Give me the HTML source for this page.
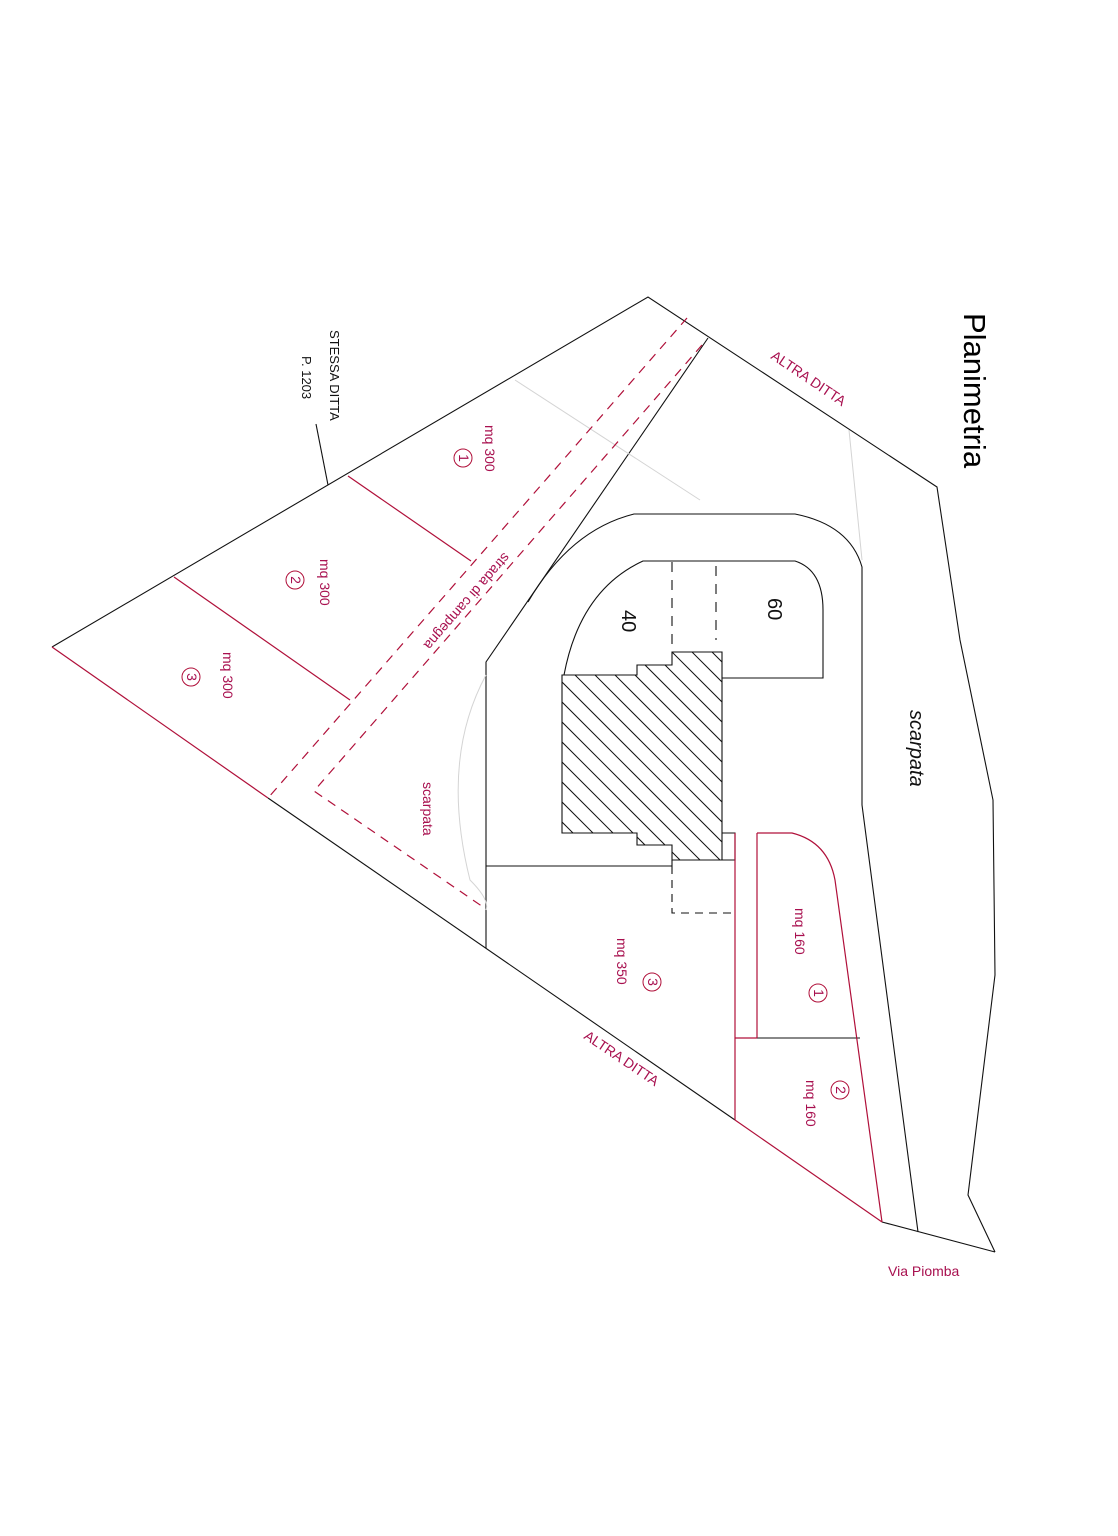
<!DOCTYPE html>
<html><head><meta charset="utf-8"><style>
html,body{margin:0;padding:0;background:#fff;}
svg{display:block;}
text{font-family:"Liberation Sans",sans-serif;}
.m{fill:#a8104f;font-size:14px;}
</style></head><body>
<svg width="1118" height="1536" viewBox="0 0 1118 1536" xmlns="http://www.w3.org/2000/svg">
<defs>
<clipPath id="hc"><polygon points="562,675 637,675 637,665 672,665 672,652 722,652 722,860 672,860 672,845 637,845 637,833 562,833"/></clipPath>
</defs>
<g fill="none" stroke="#111" stroke-width="1.1">
<polyline points="52,647 648,297 937,487 960,640 993,800 995,975 968,1195 995,1252"/>
<line x1="882" y1="1222" x2="995" y2="1252"/>
<line x1="268" y1="798" x2="735" y2="1120"/>
<line x1="328" y1="485" x2="316" y2="424"/>
<polyline points="708,338 486,662 486,948"/>
<line x1="486" y1="866" x2="672" y2="866"/>
<path d="M528,602 Q570,530 634,514 L795,514 Q850,525 862,567 L862,805 L918,1232"/>
<path d="M564,675 Q580,590 643,561 L795,561 Q823,570 823,610 L823,678 L722,678"/>
<polygon points="562,675 637,675 637,665 672,665 672,652 722,652 722,860 672,860 672,845 637,845 637,833 562,833"/>
<polyline points="722,833 735,833 735,860 722,860"/>
<line x1="672" y1="860" x2="672" y2="866"/>
<polyline stroke-dasharray="8,6" points="672,866 672,913 735,913"/>
<line stroke-dasharray="10,8" x1="672" y1="562" x2="672" y2="650"/>
<line stroke-dasharray="10,8" x1="716" y1="566" x2="716" y2="640"/>
<line x1="757" y1="1038" x2="860" y2="1038"/>
</g>
<g clip-path="url(#hc)" stroke="#111" stroke-width="1">
<path d="M480,560 l300,300 M500,560 l300,300 M520,560 l300,300 M540,560 l300,300 M560,560 l300,300 M580,560 l300,300 M600,560 l300,300 M620,560 l300,300 M640,560 l300,300 M660,560 l300,300 M460,560 l300,300 M440,560 l300,300 M420,560 l300,300 M400,560 l300,300 M380,560 l300,300 M360,560 l300,300 M340,560 l300,300 M320,560 l300,300 M300,560 l300,300 M280,560 l300,300 M260,560 l300,300 M240,560 l300,300"/>
</g>
<g stroke="#d4d4d4" stroke-width="1" fill="none">
<line x1="849" y1="430" x2="862" y2="560"/>
<line x1="515" y1="380" x2="700" y2="500"/>
<path d="M486,675 Q440,760 470,880 Q490,900 486,910"/>
</g>
<g fill="none" stroke="#b0103a" stroke-width="1.2">
<line x1="52" y1="647" x2="268" y2="798"/>
<line x1="735" y1="1120" x2="882" y2="1222"/>
<line x1="348" y1="476" x2="471" y2="561"/>
<line x1="174" y1="577" x2="350" y2="700"/>
<line x1="735" y1="833" x2="735" y2="1120"/>
<line x1="757" y1="833" x2="757" y2="1038"/>
<line x1="735" y1="1038" x2="757" y2="1038"/>
<path d="M757,833 L792,833 Q828,842 835,880 L882,1222"/>
<line stroke-dasharray="9,7" x1="687" y1="318" x2="268" y2="798"/>
<polyline stroke-dasharray="9,7" points="702,345 314,791 486,909"/>
</g>
<text font-size="31" transform="translate(964,313) rotate(90)">Planimetria</text>
<text class="m" font-size="13" transform="translate(770,358) rotate(34)">ALTRA DITTA</text>
<text class="m" font-size="13" transform="translate(583,1038) rotate(34)">ALTRA DITTA</text>
<text class="m" x="888" y="1276">Via Piomba</text>
<text font-size="13" fill="#111" transform="translate(330,330) rotate(90)">STESSA DITTA</text>
<text font-size="13" fill="#111" transform="translate(302,356) rotate(90)">P. 1203</text>
<text class="m" transform="translate(485,425) rotate(90)">mq 300</text>
<text class="m" transform="translate(320,559) rotate(90)">mq 300</text>
<text class="m" transform="translate(223,652) rotate(90)">mq 300</text>
<text class="m" transform="translate(617,938) rotate(90)">mq 350</text>
<text class="m" transform="translate(795,908) rotate(90)">mq 160</text>
<text class="m" transform="translate(806,1080) rotate(90)">mq 160</text>
<text class="m" transform="translate(423,782) rotate(90)">scarpata</text>
<text class="m" transform="translate(504,552) rotate(131)">strada di campegna</text>
<g fill="none" stroke="#b0103a" stroke-width="1">
<circle cx="463" cy="458" r="9"/><circle cx="295" cy="580" r="9"/><circle cx="191" cy="677" r="9"/>
<circle cx="652" cy="982" r="9"/><circle cx="818" cy="993" r="9"/><circle cx="840" cy="1090" r="9"/>
</g>
<g class="m" font-size="12" text-anchor="middle">
<text transform="translate(459,458) rotate(90)">1</text>
<text transform="translate(291,580) rotate(90)">2</text>
<text transform="translate(187,677) rotate(90)">3</text>
<text transform="translate(648,982) rotate(90)">3</text>
<text transform="translate(814,993) rotate(90)">1</text>
<text transform="translate(836,1090) rotate(90)">2</text>
</g>
<text font-size="20" fill="#111" transform="translate(768,598) rotate(90)">60</text>
<text font-size="20" fill="#111" transform="translate(622,610) rotate(90)">40</text>
<text font-size="20" fill="#111" font-style="italic" transform="translate(910,710) rotate(90)">scarpata</text>
</svg>
</body></html>
